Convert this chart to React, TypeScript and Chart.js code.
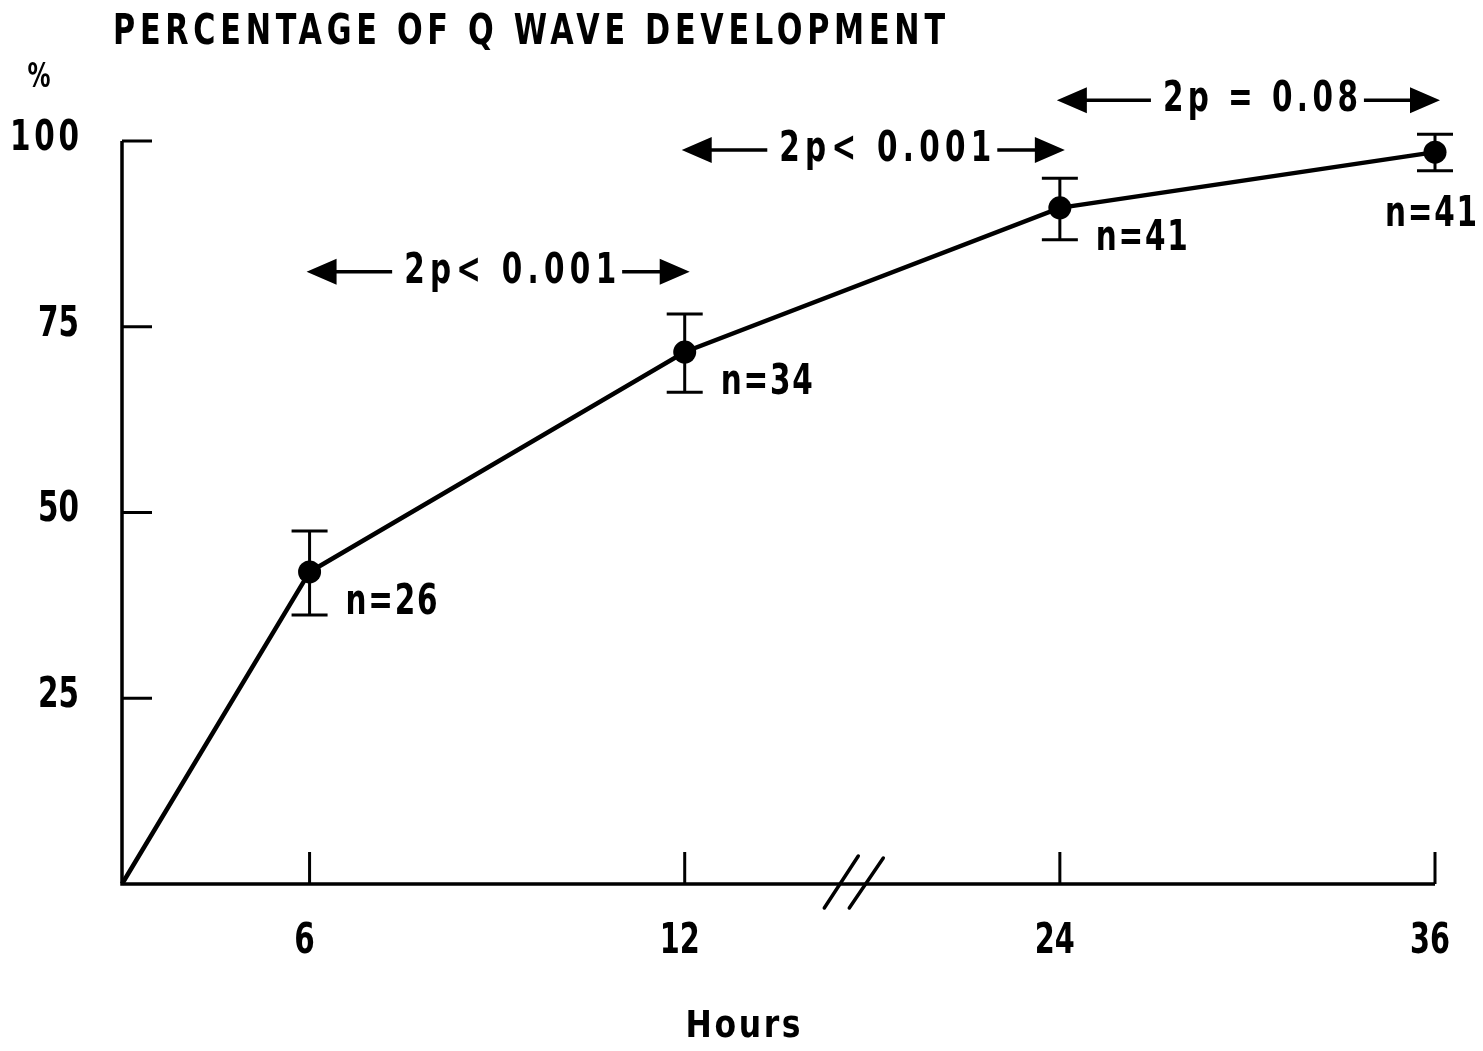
import { useEffect, useRef } from 'react';
import { Chart, registerables } from 'chart.js';

Chart.register(...registerables);

// ---- data ----
const hours = [0, 6, 12, 24, 36];
const axisPositions = [0, 1, 3, 5, 7]; // broken time axis
const qWavePercent = [0, 42.0, 71.6, 91.0, 98.5];
const errorLow: (number | null)[] = [null, 36.2, 66.2, 86.7, 96.0];
const errorHigh: (number | null)[] = [null, 47.5, 76.7, 95.0, 100.9];
const sampleLabels = ['', 'n=26', 'n=34', 'n=41', 'n=41'];
const yTickValues = [25, 50, 75, 100];
const xTickHours = [6, 12, 24, 36];
const pLabels = ['2p< 0.001', '2p< 0.001', '2p = 0.08'];
const pFrom = [6, 12, 24];
const pTo = [12, 24, 36];
const pLevel = [82.4, 98.8, 105.5];

const FONT = '"DejaVu Sans Condensed", "DejaVu Sans", sans-serif';

const posOf = (h: number) => axisPositions[hours.indexOf(h)];

function fitText(
  ctx: CanvasRenderingContext2D,
  text: string,
  x: number,
  y: number,
  size: number,
  width: number,
  align: 'left' | 'center' | 'right',
  squeeze = 0.78,
) {
  ctx.font = `bold ${size}px ${FONT}`;
  (ctx as any).letterSpacing = '0px';
  const w = ctx.measureText(text).width;
  let sx = squeeze;
  let sp = 0;
  let drawW = width;
  if (width >= w * squeeze) {
    if (text.length > 1) sp = (width - w * squeeze) / (text.length - 1) / squeeze;
    else drawW = w * squeeze;
  } else {
    sx = width / w;
  }
  let left = x;
  if (align === 'center') left = x - drawW / 2;
  if (align === 'right') left = x - drawW;
  ctx.save();
  (ctx as any).letterSpacing = `${sp}px`;
  ctx.textAlign = 'left';
  ctx.textBaseline = 'middle';
  ctx.translate(left, y);
  ctx.scale(sx, 1);
  ctx.fillText(text, 0, 0);
  ctx.restore();
  (ctx as any).letterSpacing = '0px';
}

const decorPlugin = {
  id: 'decor',
  afterDraw(chart: any) {
    const ctx: CanvasRenderingContext2D = chart.ctx;
    const xs = chart.scales.x;
    const ys = chart.scales.y;
    const X = (h: number) => xs.getPixelForValue(posOf(h));
    const Y = (v: number) => ys.getPixelForValue(v);
    ctx.save();
    ctx.strokeStyle = '#000';
    ctx.fillStyle = '#000';
    ctx.lineCap = 'butt';

    // axes
    ctx.lineWidth = 3.5;
    ctx.beginPath();
    ctx.moveTo(X(0), Y(100));
    ctx.lineTo(X(0), Y(0));
    ctx.lineTo(X(36), Y(0));
    ctx.stroke();
    ctx.lineWidth = 3;
    ctx.beginPath();
    for (const v of yTickValues) {
      ctx.moveTo(X(0), Y(v));
      ctx.lineTo(X(0) + 30, Y(v));
    }
    for (const h of xTickHours) {
      ctx.moveTo(X(h), Y(0));
      ctx.lineTo(X(h), Y(0) - 32);
    }
    ctx.stroke();

    // axis break "//"
    ctx.lineWidth = 3.5;
    ctx.lineCap = 'round';
    ctx.beginPath();
    const bx = (X(12) + X(24)) / 2 - 30;
    ctx.moveTo(bx - 18, Y(0) + 24);
    ctx.lineTo(bx + 16, Y(0) - 28);
    ctx.moveTo(bx + 7, Y(0) + 24);
    ctx.lineTo(bx + 41, Y(0) - 26);
    ctx.stroke();
    ctx.lineCap = 'butt';

    // y tick labels
    for (const v of yTickValues) {
      const t = String(v);
      fitText(ctx, t, 79, Y(v) - 2, 42, t.length === 3 ? 69 : 41, 'right');
    }
    // x tick labels
    for (const h of xTickHours) {
      const t = String(h);
      fitText(ctx, t, X(h) - 5, Y(0) + 58, 42, t.length === 2 ? 40 : 22, 'center');
    }
    // axis titles
    fitText(ctx, 'Hours', 743, 1027, 38, 115, 'center', 0.92);
    fitText(ctx, '%', 39, 78, 34, 23, 'center', 0.9);
    fitText(ctx, 'PERCENTAGE OF Q WAVE DEVELOPMENT', 113, 33, 42, 832, 'left', 0.8);

    // error bars
    ctx.lineWidth = 3;
    ctx.beginPath();
    for (let i = 0; i < hours.length; i++) {
      const lo = errorLow[i];
      const hi = errorHigh[i];
      if (lo == null || hi == null) continue;
      const x = X(hours[i]);
      ctx.moveTo(x, Y(lo));
      ctx.lineTo(x, Y(hi));
      ctx.moveTo(x - 18, Y(lo));
      ctx.lineTo(x + 18, Y(lo));
      ctx.moveTo(x - 18, Y(hi));
      ctx.lineTo(x + 18, Y(hi));
    }
    ctx.stroke();

    // sample size labels
    for (let i = 0; i < hours.length; i++) {
      const t = sampleLabels[i];
      if (!t) continue;
      const x = X(hours[i]);
      const y = Y(qWavePercent[i]);
      if (i === hours.length - 1) {
        fitText(ctx, t, x - 4, y + 63, 42, 92, 'center');
      } else {
        fitText(ctx, t, x + 36, y + 31, 42, 92, 'left');
      }
    }

    // p-value arrows
    for (let i = 0; i < pLabels.length; i++) {
      const x1 = X(pFrom[i]) - 3;
      const x2 = X(pTo[i]) + 5;
      const y = Y(pLevel[i]);
      const tw = i === 2 ? 195 : 212;
      const cx = (x1 + x2) / 2 + 12;
      fitText(ctx, pLabels[i], cx, y, 42, tw, 'center');
      const head = 30;
      const half = 13;
      ctx.lineWidth = 3.5;
      ctx.beginPath();
      ctx.moveTo(x1 + head - 2, y);
      ctx.lineTo(cx - tw / 2 - 12, y);
      ctx.moveTo(cx + tw / 2 + 6, y);
      ctx.lineTo(x2 - head + 2, y);
      ctx.stroke();
      ctx.beginPath();
      ctx.moveTo(x1, y);
      ctx.lineTo(x1 + head, y - half);
      ctx.lineTo(x1 + head, y + half);
      ctx.closePath();
      ctx.moveTo(x2, y);
      ctx.lineTo(x2 - head, y - half);
      ctx.lineTo(x2 - head, y + half);
      ctx.closePath();
      ctx.fill();
    }
    ctx.restore();
  },
};

export default function App() {
  const ref = useRef<HTMLCanvasElement>(null);
  useEffect(() => {
    if (!ref.current) return;
    const chart = new Chart(ref.current, {
      type: 'line',
      data: {
        datasets: [
          {
            data: hours.map((h, i) => ({ x: posOf(h), y: qWavePercent[i] })),
            borderColor: '#000',
            backgroundColor: '#000',
            borderWidth: 4.5,
            pointRadius: hours.map((_, i) => (i === 0 ? 0 : 11.5)),
            pointBorderWidth: 0,
            pointBackgroundColor: '#000',
            tension: 0,
            clip: false as any,
          },
        ],
      },
      options: {
        animation: false,
        responsive: false,
        maintainAspectRatio: false,
        layout: { padding: { left: 122, right: 48, top: 141, bottom: 167 } },
        plugins: { legend: { display: false }, tooltip: { enabled: false }, title: { display: false } },
        scales: {
          x: { type: 'linear', min: 0, max: 7, display: false },
          y: { type: 'linear', min: 0, max: 100, display: false },
        },
      },
      plugins: [decorPlugin],
    });
    return () => chart.destroy();
  }, []);
  return (
    <div style={{ position: 'fixed', left: 0, top: 0, width: 1483, height: 1051, background: '#fff' }}>
      <canvas ref={ref} width={1483} height={1051} style={{ display: 'block' }} />
    </div>
  );
}
